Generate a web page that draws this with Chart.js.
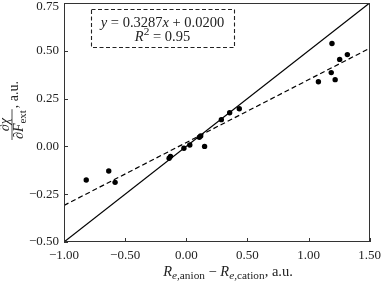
<!DOCTYPE html>
<html>
<head>
<meta charset="utf-8">
<script src="https://cdn.jsdelivr.net/npm/chart.js@4.4.1/dist/chart.umd.min.js"></script>
<style>
  html, body { margin: 0; padding: 0; background: #fff; }
  canvas { display: block; }
</style>
</head>
<body>
<canvas id="c" width="387" height="284"></canvas>
<script>
// ---- data ----
const pointX = [1.192, 1.255, 1.318, 1.186, 1.081, 1.218, 0.434, 0.355, 0.287, 0.118, 0.107, 0.150, 0.029, -0.019, -0.129, -0.140, -0.818, -0.634, -0.582];
const pointY = [0.538, 0.455, 0.480, 0.386, 0.338, 0.349, 0.197, 0.176, 0.140, 0.055, 0.048, 0.000, 0.007, -0.010, -0.052, -0.062, -0.176, -0.129, -0.188];

// reference line (solid) and fit line (dashed) end points
const refLineX = [-1.0, 1.5];
const refLineY = [-0.5, 0.75];
const fitLineX = [-1.0, 1.5];
const fitLineY = [-0.3087, 0.5131];

const xTickValues = [-1.0, -0.5, 0.0, 0.5, 1.0, 1.5];
const xTickLabels = ['\u22121.00', '\u22120.50', '0.00', '0.50', '1.00', '1.50'];
const yTickValues = [-0.5, -0.25, 0.0, 0.25, 0.5, 0.75];
const yTickLabels = ['\u22120.50', '\u22120.25', '0.00', '0.25', '0.50', '0.75'];

const eqLine1 = [['y', 'i'], [' = 0.3287', 'r'], ['x', 'i'], [' + 0.0200', 'r']];
const eqLine2 = [['R', 'i'], ['2', 'sup'], [' = 0.95', 'r']];

const xTitle = [['R', 'i'], ['e,', 'subi'], ['anion', 'sub'], [' \u2212 ', 'r'], ['R', 'i'], ['e,', 'subi'], ['cation', 'sub'], [', a.u.', 'r']];
const yNum = [['\u2202\u03c7', 'i']];
const yDen = [['\u2202F', 'i'], ['ext', 'sub']];
const yTail = [[', a.u.', 'r']];

// ---- drawing helpers ----
const FAM = '"Liberation Serif", "Times New Roman", serif';
const TICK = 13;
function runFont(kind, s) {
  const ss = (s * 0.78).toFixed(1);
  if (kind === 'i') return 'italic ' + s + 'px ' + FAM;
  if (kind === 'r') return s + 'px ' + FAM;
  if (kind === 'sub' || kind === 'sup') return ss + 'px ' + FAM;
  if (kind === 'subi') return 'italic ' + ss + 'px ' + FAM;
  return s + 'px ' + FAM;
}
function runDy(kind, s) {
  if (kind === 'sub' || kind === 'subi') return s * 0.22;
  if (kind === 'sup') return -s * 0.38;
  return 0;
}
function runsWidth(ctx, runs, s) {
  let w = 0;
  for (const [t, k] of runs) { ctx.font = runFont(k, s); w += ctx.measureText(t).width; }
  return w;
}
function drawRuns(ctx, runs, x, y, s) {
  let cx = x;
  ctx.textBaseline = 'alphabetic';
  ctx.textAlign = 'left';
  for (const [t, k] of runs) {
    ctx.font = runFont(k, s);
    ctx.fillText(t, cx, y + runDy(k, s));
    cx += ctx.measureText(t).width;
  }
  return cx;
}

const decor = {
  id: 'decor',
  afterDraw(chart) {
    const ctx = chart.ctx;
    const ca = chart.chartArea;
    const xs = chart.scales.x, ys = chart.scales.y;
    ctx.save();
    // frame
    ctx.strokeStyle = '#333';
    ctx.lineWidth = 1;
    ctx.strokeRect(Math.round(ca.left) + 0.5, Math.round(ca.top) + 0.5,
                   Math.round(ca.right - ca.left) - 1, Math.round(ca.bottom - ca.top) - 1);
    // inner ticks
    ctx.beginPath();
    for (const v of xTickValues) {
      const px = Math.round(xs.getPixelForValue(v)) + 0.5;
      ctx.moveTo(px, ca.bottom);
      ctx.lineTo(px, ca.bottom - 4);
    }
    for (const v of yTickValues) {
      const py = Math.round(ys.getPixelForValue(v)) + 0.5;
      ctx.moveTo(ca.left, py);
      ctx.lineTo(ca.left + 4, py);
    }
    ctx.stroke();

    ctx.fillStyle = '#222';
    // y tick labels
    ctx.font = TICK + 'px ' + FAM;
    ctx.textAlign = 'right';
    ctx.textBaseline = 'middle';
    yTickValues.forEach((v, i) => {
      let py = ys.getPixelForValue(v);
      if (py < 6.5) py = 6.5;
      ctx.fillText(yTickLabels[i], ca.left - 5, py);
    });

    // equation box
    const bx = ca.left + 27, by = ca.top + 6, bw = 143, bh = 38;
    ctx.setLineDash([4, 2.5]);
    ctx.strokeStyle = '#222';
    ctx.lineWidth = 1.1;
    ctx.strokeRect(bx + 0.5, by + 0.5, bw, bh);
    ctx.setLineDash([]);
    const es = 14.5;
    const cx = bx + bw / 2;
    const w1 = runsWidth(ctx, eqLine1, es);
    drawRuns(ctx, eqLine1, cx - w1 / 2, by + 17.5, es);
    const w2 = runsWidth(ctx, eqLine2, es);
    drawRuns(ctx, eqLine2, cx - w2 / 2, by + 32, es);

    // x axis title
    const ts = 14.5;
    const wx = runsWidth(ctx, xTitle, ts);
    drawRuns(ctx, xTitle, 228 - wx / 2, 276, ts);

    // y axis title (rotated)
    const ys2 = 14;
    ctx.save();
    ctx.translate(12, 140);
    ctx.rotate(-Math.PI / 2);
    const wn = runsWidth(ctx, yNum, ys2), wd = runsWidth(ctx, yDen, ys2);
    const fw = Math.max(wn, wd) + 2;
    drawRuns(ctx, yNum, (fw - wn) / 2, -3.5, ys2);
    drawRuns(ctx, yDen, (fw - wd) / 2, 10.5, ys2);
    ctx.strokeStyle = '#222';
    ctx.lineWidth = 0.8;
    ctx.beginPath();
    ctx.moveTo(0, 0);
    ctx.lineTo(fw, 0);
    ctx.stroke();
    drawRuns(ctx, yTail, fw + 1, 5.5, ys2);
    ctx.restore();

    ctx.restore();
  }
};

const scatterData = pointX.map((x, i) => ({ x: x, y: pointY[i] }));
const refData = refLineX.map((x, i) => ({ x: x, y: refLineY[i] }));
const fitData = fitLineX.map((x, i) => ({ x: x, y: fitLineY[i] }));

new Chart(document.getElementById('c'), {
  type: 'scatter',
  data: {
    datasets: [
      { data: scatterData, pointRadius: 2.7, pointBackgroundColor: '#000', pointBorderWidth: 0, showLine: false, order: 0 },
      { data: refData, showLine: true, borderColor: '#000', borderWidth: 1.2, pointRadius: 0, order: 1 },
      { data: fitData, showLine: true, borderColor: '#000', borderWidth: 1.2, borderDash: [5, 3], pointRadius: 0, order: 2 }
    ]
  },
  options: {
    responsive: false,
    animation: false,
    devicePixelRatio: 1,
    layout: { autoPadding: false, padding: { left: 0, right: 5, top: 3, bottom: 0 } },
    plugins: { legend: { display: false }, tooltip: { enabled: false } },
    scales: {
      x: {
        type: 'linear', min: -1, max: 1.5,
        afterBuildTicks(s) { s.ticks = xTickValues.map(v => ({ value: v })); },
        afterFit(s) { s.height = 42; },
        ticks: {
          callback: (v) => { const i = xTickValues.findIndex(t => Math.abs(t - v) < 1e-9); return i >= 0 ? xTickLabels[i] : ''; },
          font: { family: FAM, size: TICK }, color: '#222', padding: 6, maxRotation: 0, autoSkip: false
        },
        grid: { display: false, drawTicks: false },
        border: { display: false }
      },
      y: {
        type: 'linear', min: -0.5, max: 0.75,
        afterBuildTicks(s) { s.ticks = yTickValues.map(v => ({ value: v })); },
        afterFit(s) { s.width = 64; },
        ticks: { display: false },
        grid: { display: false, drawTicks: false },
        border: { display: false }
      }
    }
  },
  plugins: [decor]
});
</script>
</body>
</html>
